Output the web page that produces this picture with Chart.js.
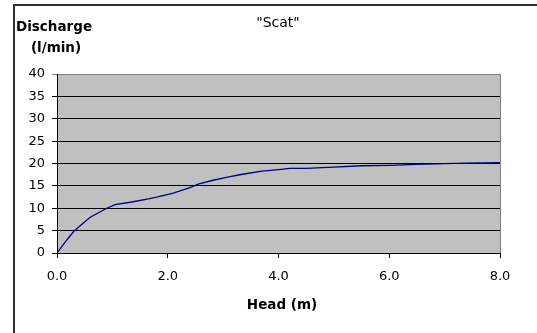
<!DOCTYPE html>
<html>
<head>
<meta charset="utf-8">
<script src="https://cdn.jsdelivr.net/npm/chart.js@4/dist/chart.umd.min.js"></script>
<style>
  body { margin: 0; background: #fff; }
  canvas { display: block; }
</style>
</head>
<body>
<canvas id="scat-chart" width="537" height="333"></canvas>
<script>
// head (m) against discharge (l/min)
const heads = [0, 0.15, 0.3, 0.45, 0.6, 0.9, 1.05, 1.35, 1.65, 1.8, 2.1, 2.4, 2.55, 2.8, 3.1, 3.35, 3.7, 4.05, 4.2, 4.5, 5.0, 5.5, 6.0, 6.5, 7.0, 7.4, 8.0];
const discharge = [0, 2.5, 4.8, 6.4, 8.0, 10.0, 10.8, 11.4, 12.1, 12.5, 13.4, 14.6, 15.4, 16.2, 17.0, 17.6, 18.3, 18.7, 18.9, 18.9, 19.2, 19.5, 19.6, 19.8, 19.95, 20.1, 20.2];
const xTicks = [0, 2, 4, 6, 8];
const yTicks = [0, 5, 10, 15, 20, 25, 30, 35, 40];

const FONT = '"DejaVu Sans", sans-serif';

// grey plot box, outer frame and the free-standing labels
const chartDecor = {
  id: 'chartDecor',
  beforeDraw(chart) {
    const { ctx, chartArea: a } = chart;
    ctx.save();
    ctx.fillStyle = '#fff';
    ctx.fillRect(0, 0, chart.width, chart.height);
    ctx.strokeStyle = '#303030';
    ctx.lineWidth = 2;
    ctx.strokeRect(14, 5, 600, 400);
    ctx.fillStyle = '#c0c0c0';
    ctx.fillRect(a.left, a.top, a.right - a.left, a.bottom - a.top);
    ctx.strokeStyle = '#808080';
    ctx.lineWidth = 1;
    ctx.strokeRect(a.left + 0.5, a.top + 0.5, a.right - a.left, a.bottom - a.top);
    ctx.restore();
  },
  afterDraw(chart) {
    const ctx = chart.ctx;
    ctx.save();
    ctx.fillStyle = '#000';
    ctx.textAlign = 'center';
    ctx.textBaseline = 'middle';
    ctx.font = '14px ' + FONT;
    ctx.fillText('"Scat"', 278, 23);
    ctx.font = 'bold 13.5px ' + FONT;
    ctx.fillText('Discharge', 54, 27);
    ctx.fillText('(l/min)', 56, 48);
    ctx.fillText('Head (m)', 282, 305);
    ctx.restore();
  }
};

new Chart(document.getElementById('scat-chart'), {
  type: 'line',
  data: {
    datasets: [{
      data: heads.map((h, i) => ({ x: h, y: discharge[i] })),
      borderColor: '#000080',
      borderWidth: 1.3,
      pointRadius: 0,
      tension: 0,
      fill: false
    }]
  },
  options: {
    responsive: false,
    animation: false,
    layout: { padding: { left: 0, top: 74, right: 37, bottom: 0 } },
    plugins: {
      legend: { display: false },
      tooltip: { enabled: false }
    },
    scales: {
      x: {
        type: 'linear',
        min: 0,
        max: 8,
        afterBuildTicks: (scale) => { scale.ticks = xTicks.map(v => ({ value: v })); },
        afterFit: (scale) => { scale.height = 80; },
        grid: { drawOnChartArea: false, drawTicks: true, tickLength: 5, color: '#000' },
        border: { color: '#000', width: 1 },
        ticks: {
          padding: 11,
          color: '#000',
          font: { family: FONT, size: 13 },
          callback: (v) => Number(v).toFixed(1)
        }
      },
      y: {
        min: 0,
        max: 40,
        afterBuildTicks: (scale) => { scale.ticks = yTicks.map(v => ({ value: v })); },
        afterFit: (scale) => { scale.width = 57; },
        grid: {
          tickLength: 5,
          color: (c) => (c.tick && c.tick.value === 40 ? '#808080' : '#000')
        },
        border: { color: '#000', width: 1 },
        ticks: {
          padding: 7,
          color: '#000',
          font: { family: FONT, size: 13 }
        }
      }
    }
  },
  plugins: [chartDecor]
});
</script>
</body>
</html>
